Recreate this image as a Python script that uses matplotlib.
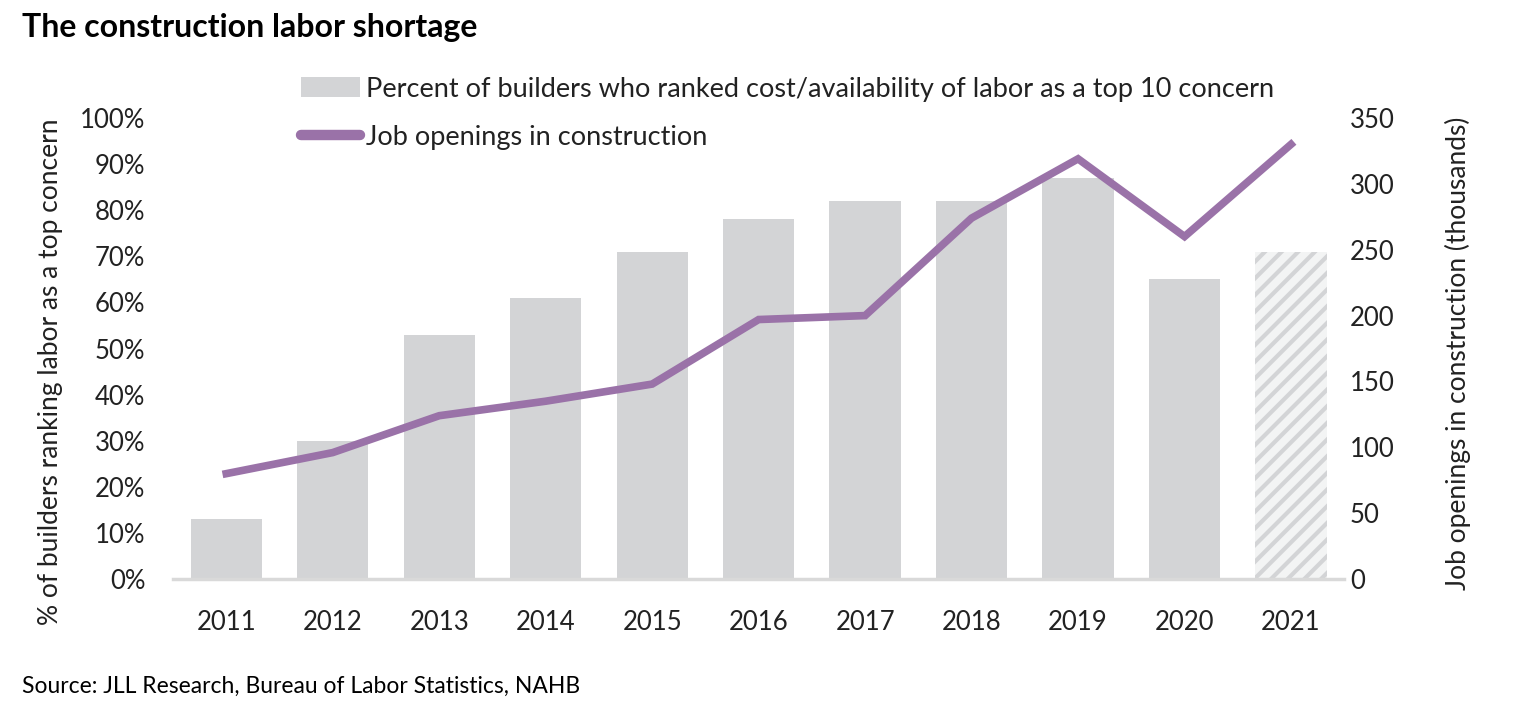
import matplotlib
matplotlib.use('Agg')
import matplotlib.pyplot as plt
import numpy as np

plt.rcParams['font.family'] = ['Lato', 'DejaVu Sans']
plt.rcParams['hatch.linewidth'] = 3.0
plt.rcParams['hatch.color'] = '#D3D4D6'

# data
years = ['2011', '2012', '2013', '2014', '2015', '2016', '2017', '2018', '2019', '2020', '2021']
pct_builders = [13, 30, 53, 61, 71, 78, 82, 82, 87, 65, 71]
job_openings = [80, 96, 124, 135, 148, 197, 200, 274, 319, 260, 330]

bar_color = '#D3D4D6'
line_color = '#9A72A8'
text_color = '#222222'

fig = plt.figure(figsize=(15.26, 7.16), dpi=100)
ax = fig.add_axes([0.1134, 0.1913, 0.7675, 0.6439])
ax2 = ax.twinx()

x = np.arange(len(years))
bars = ax.bar(x[:-1], pct_builders[:-1], width=0.67, color=bar_color)
ax.bar(x[-1], pct_builders[-1], width=0.67, color='#F3F4F4', edgecolor=bar_color,
       hatch='//', linewidth=0)
line, = ax2.plot(x, job_openings, color=line_color, lw=5.5, solid_joinstyle='miter')

ax.set_xlim(-0.5, 10.5)
ax.set_ylim(0, 100)
ax2.set_ylim(0, 350)
ax.set_yticks(range(0, 101, 10))
ax.set_yticklabels([f'{v}%' for v in range(0, 101, 10)])
ax2.set_yticks(range(0, 351, 50))
ax.set_xticks(x)
ax.set_xticklabels(years)

for a in (ax, ax2):
    for s in a.spines.values():
        s.set_visible(False)
    a.tick_params(length=0, labelsize=18.5, colors=text_color)
ax.spines['bottom'].set_visible(True)
ax.spines['bottom'].set_color('#D9D9D9')
ax.spines['bottom'].set_linewidth(2.5)
ax.tick_params(axis='x', pad=22)
ax.tick_params(axis='y', pad=20)
ax2.tick_params(axis='y', pad=4)

ax.set_ylabel('% of builders ranking labor as a top concern', fontsize=19, color=text_color, labelpad=12)
ax2.set_ylabel('Job openings in construction (thousands)', fontsize=19, color=text_color, labelpad=36)
ax.yaxis.label.set_y(0.45)
ax2.yaxis.label.set_y(0.49)

leg = fig.legend([bars, line],
                 ['Percent of builders who ranked cost/availability of labor as a top 10 concern',
                  'Job openings in construction'],
                 loc='upper left', bbox_to_anchor=(0.19, 0.908), frameon=False,
                 fontsize=19.5, handlelength=2.2, handleheight=0.75, handletextpad=0.2,
                 labelspacing=0.85, borderaxespad=0)
for t in leg.get_texts():
    t.set_color(text_color)
for ln in leg.get_lines():
    ln.set_linewidth(7.5)
    ln.set_solid_capstyle('round')

fig.text(0.0144, 0.962, 'The construction labor shortage', fontsize=23, fontweight='bold',
         color='black', va='center')
fig.text(0.0144, 0.042, 'Source: JLL Research, Bureau of Labor Statistics, NAHB', fontsize=16.5,
         color='black', va='center')

fig.savefig('out.png', dpi=100)
